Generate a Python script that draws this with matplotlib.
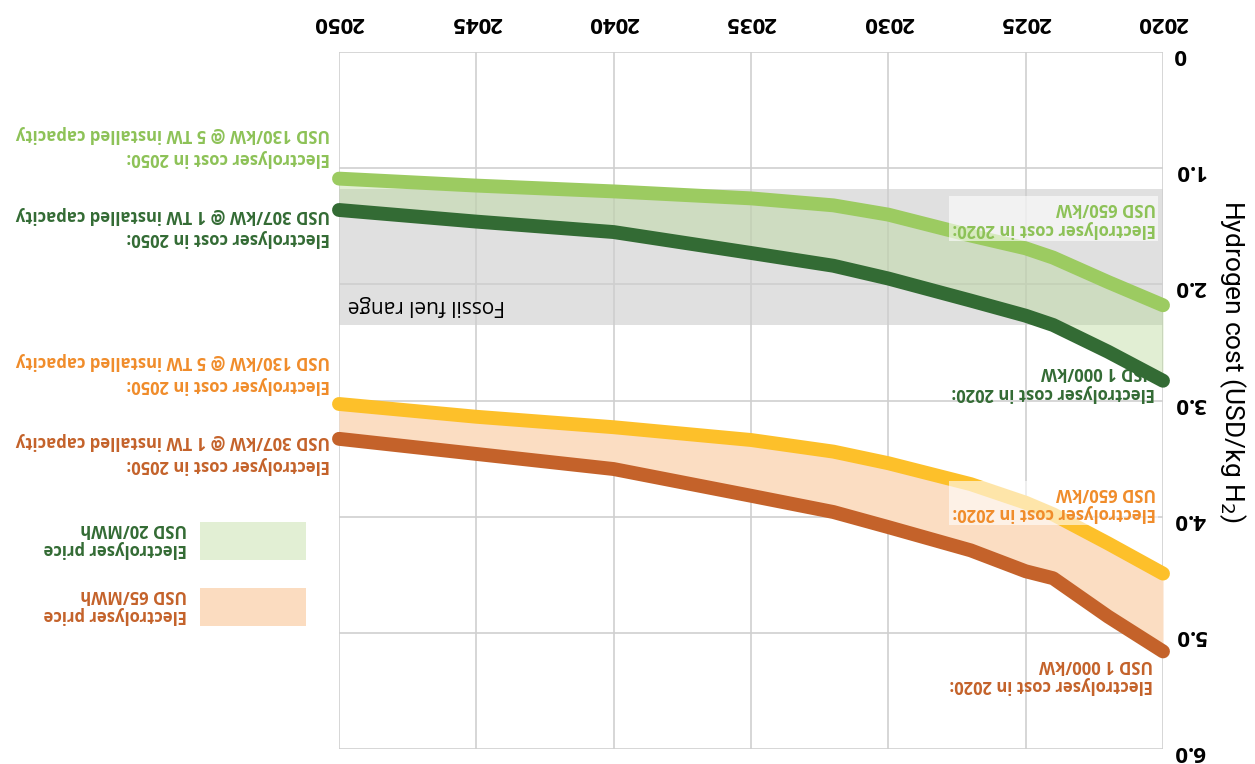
import numpy as np
import matplotlib
matplotlib.use("Agg")
import matplotlib.pyplot as plt
from matplotlib.patches import Rectangle

plt.rcParams['font.family'] = ['Open Sans', 'DejaVu Sans']

# 年份与四条氢气成本曲线 (USD/kg H2)
years = [2020, 2022, 2024, 2025, 2027, 2030, 2032, 2035, 2040, 2045, 2050]
cost_20_650 = [2.18, 1.98, 1.77, 1.69, 1.58, 1.40, 1.32, 1.26, 1.20, 1.15, 1.09]
cost_20_1000 = [2.83, 2.58, 2.35, 2.27, 2.14, 1.95, 1.84, 1.73, 1.55, 1.46, 1.36]
cost_65_650 = [4.49, 4.23, 3.98, 3.88, 3.72, 3.54, 3.44, 3.34, 3.23, 3.14, 3.03]
cost_65_1000 = [5.16, 4.86, 4.53, 4.47, 4.29, 4.09, 3.96, 3.82, 3.59, 3.46, 3.33]

fossil_range = (1.18, 2.35)

x_ticks = [2020, 2025, 2030, 2035, 2040, 2045, 2050]
y_ticks = [0, 1, 2, 3, 4, 5, 6]
y_ticklabels = ['0', '1.0', '2.0', '3.0', '4.0', '5.0', '6.0']

# 颜色
c_lgreen = '#9ccb61'
c_dgreen = '#336b34'
c_yellow = '#fdc02a'
c_dorange = '#c4622a'
c_lgreen_txt = '#8dc257'
c_orange_txt = '#f08c2a'

W, H = 1255, 764


def fx(px):
    return px / W


def fy(py):
    return 1 - py / H


fig = plt.figure(figsize=(W / 100, H / 100), dpi=100)
ax = fig.add_axes([fx(339), fy(749), fx(1163) - fx(339), fy(52) - fy(749)])

# 整张图倒置：2050 在左，0 在上
ax.set_xlim(2050, 2020)
ax.set_ylim(6, 0)

ax.axhspan(*fossil_range, color='#e0e0e0', zorder=0.3, lw=0)
ax.set_axisbelow(True)
ax.grid(True, color='#cfcfcf', lw=1.2)
for s in ax.spines.values():
    s.set_visible(False)

ax.fill_between(years, cost_20_650, cost_20_1000, color='#b5d693', alpha=0.4,
                lw=0, zorder=1)
ax.fill_between(years, cost_65_650, cost_65_1000, color='#fbddc2', lw=0, zorder=1)

line_kw = dict(lw=10, solid_capstyle='round', solid_joinstyle='round', zorder=3,
               clip_on=False)
ax.plot(years, cost_20_650, color=c_lgreen, **line_kw)
ax.plot(years, cost_20_1000, color=c_dgreen, **line_kw)
ax.plot(years, cost_65_650, color=c_yellow, **line_kw)
ax.plot(years, cost_65_1000, color=c_dorange, **line_kw)

# 刻度
ax.xaxis.tick_top()
ax.yaxis.tick_right()
ax.set_xticks(x_ticks)
ax.set_yticks(y_ticks)
ax.set_yticklabels(y_ticklabels)
ax.tick_params(axis='both', length=0, labelsize=16, labelrotation=180)
ax.tick_params(axis='x', pad=14)
ax.tick_params(axis='y', pad=8)
for lab in ax.get_xticklabels() + ax.get_yticklabels():
    lab.set_fontweight('bold')

fig.text(fx(1232), fy(362), 'Hydrogen cost (USD/kg H$_2$)', rotation=270,
         ha='center', va='center', fontsize=19, family=['Roboto', 'DejaVu Sans'])


def flip_text(x, y, s, color, box=False, **kw):
    # 倒置文字：锚点在屏幕上的右下角
    extra = {}
    if box:
        extra['bbox'] = dict(facecolor='white', alpha=0.6, edgecolor='none', pad=2)
    return ax.text(x, y, s, color=color, rotation=180, rotation_mode='anchor',
                   ha='left', va='top', fontsize=12, fontweight='bold',
                   clip_on=False, zorder=5, **extra, **kw)


# 2050 端标注
flip_text(2050.33, 0.99, 'Electrolyser cost in 2050:\nUSD 130/kW @ 5 TW installed capacity',
          c_lgreen_txt, linespacing=1.4)
flip_text(2050.33, 1.68, 'Electrolyser cost in 2050:\nUSD 307/kW @ 1 TW installed capacity',
          c_dgreen, linespacing=1.4)
flip_text(2050.33, 2.94, 'Electrolyser cost in 2050:\nUSD 130/kW @ 5 TW installed capacity',
          c_orange_txt, linespacing=1.4)
flip_text(2050.33, 3.63, 'Electrolyser cost in 2050:\nUSD 307/kW @ 1 TW installed capacity',
          c_dorange, linespacing=1.4)

# 2020 端标注
flip_text(2020.27, 1.60, 'Electrolyser cost in 2020:\nUSD 650/kW', c_lgreen_txt, box=True)
flip_text(2020.3, 3.01, 'Electrolyser cost in 2020:\nUSD 1 000/kW', c_dgreen)
flip_text(2020.27, 4.05, 'Electrolyser cost in 2020:\nUSD 650/kW', c_orange_txt, box=True)
flip_text(2020.35, 5.53, 'Electrolyser cost in 2020:\nUSD 1 000/kW', c_dorange)

ax.text(2043.96, 2.27, 'Fossil fuel range', rotation=180, rotation_mode='anchor',
        ha='left', va='top', fontsize=15, color='black', zorder=5)

# 图例
fig.add_artist(Rectangle((fx(200), fy(560)), fx(306) - fx(200), fy(522) - fy(560),
                         transform=fig.transFigure, color='#e2efd4', lw=0))
fig.add_artist(Rectangle((fx(200), fy(626)), fx(306) - fx(200), fy(588) - fy(626),
                         transform=fig.transFigure, color='#fbdcc0', lw=0))
fig.text(fx(187), fy(539), 'Electrolyser price\nUSD 20/MWh', color=c_dgreen,
         rotation=180, rotation_mode='anchor', ha='left', va='center',
         fontsize=12, fontweight='bold')
fig.text(fx(187), fy(605), 'Electrolyser price\nUSD 65/MWh', color=c_dorange,
         rotation=180, rotation_mode='anchor', ha='left', va='center',
         fontsize=12, fontweight='bold')

fig.savefig('out.png', dpi=100, facecolor='white')
